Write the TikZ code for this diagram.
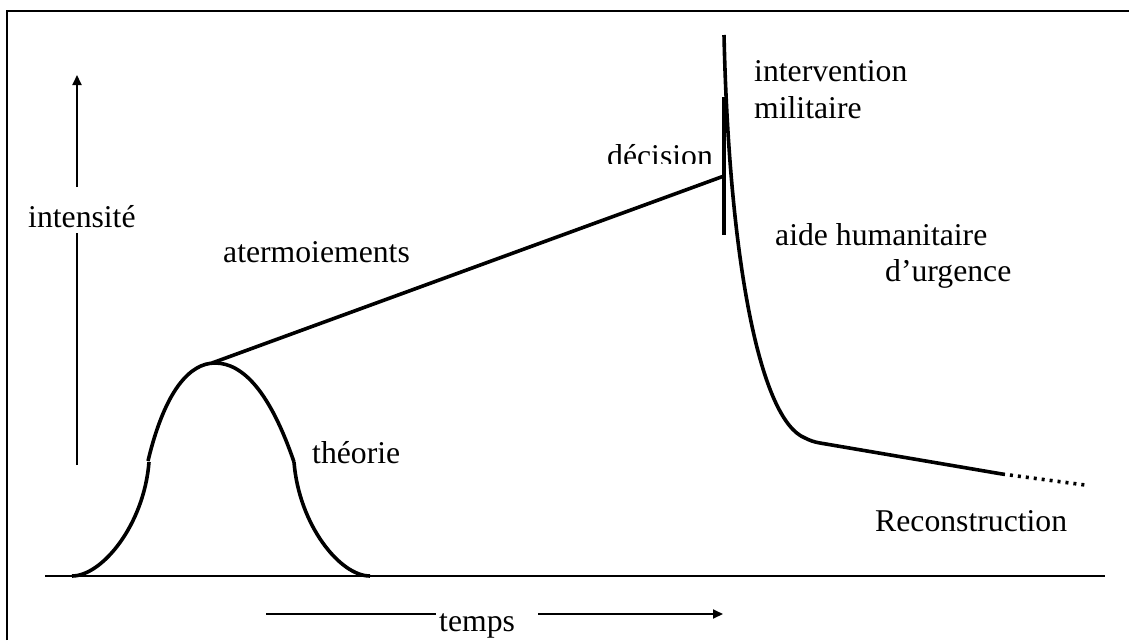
\documentclass[tikz,border=0pt]{standalone}
\usepackage{fontspec}
\setmainfont{Liberation Serif}
\usetikzlibrary{arrows.meta}
\begin{document}
\begin{tikzpicture}[x=1pt,y=-1pt,
  lbl/.style={anchor=base west,inner sep=0pt,font=\fontsize{31.7pt}{36pt}\selectfont},
  heavy/.style={line width=3.6pt},
  light/.style={line width=1.8pt},
  tip/.style={-{Triangle[length=10pt,width=9pt]}}]
\useasboundingbox (0,0) rectangle (1129,640);
\fill[white] (0,0) rectangle (1129,640);
% frame
\draw[line width=2.2pt] (7,640) -- (7,11) -- (1129,11);
% baseline
\draw[line width=2.4pt] (45,576) coordinate (b0) -- (1105,576) coordinate (b1);
% intensity axis
\node[lbl] (int) at (28,227) {intensité};
\coordinate (ia) at (77,465);
\coordinate (ib) at (77,233);
\coordinate (ic) at (77,187);
\coordinate (id) at (77,75);
\draw[light] (ia) -- (ib);
\draw[light,tip] (ic) -- (id);
% time axis
\node[lbl] (tps) at (439,631) {temps};
\coordinate (ta) at (266,614);
\coordinate (tb) at (436,614);
\coordinate (tc) at (538,614);
\coordinate (td) at (723,614);
\draw[light] (ta) -- (tb);
\draw[light,tip] (tc) -- (td);
% bell curve (theory)
\coordinate (peak) at (215,363);
\draw[heavy] (72,576) .. controls (102,576) and (144,525) .. (149,462);
\draw[heavy] (148,461) .. controls (165,390) and (190,363) .. (peak)
  .. controls (243,363) and (270,392) .. (294,462);
\draw[heavy] (294,462) .. controls (299,525) and (340,576) .. (370,576);
% atermoiements line
\coordinate (dec) at (724,176);
\draw[heavy] (212,363) -- (dec);
% decision bar
\draw[heavy] (724,97) -- (724,235);
% intervention / humanitarian curve
\coordinate (knee) at (820,443);
\coordinate (rec) at (1002,474);
\coordinate (recend) at (1085,485);
\draw[heavy,line join=round] (724,35) .. controls (729,260) and (760,420) .. (805,438)
  .. controls (810,440.5) and (814,442) .. (knee) -- (rec);
\draw[heavy,dash pattern=on 3pt off 5pt] (rec) -- (recend);
% labels
\node[lbl] (iv) at (754,81) {intervention};
\node[lbl] (mil) at (754,118) {militaire};
\begin{scope}
  \clip (590,100) rectangle (720,163);
  \node[lbl] (decl) at (607,166) {décision};
\end{scope}
\node[lbl] (aide) at (775,245) {aide humanitaire};
\node[lbl] (urg) at (885,281) {d’urgence};
\node[lbl] (ater) at (223,262) {atermoiements};
\node[lbl] (theo) at (312,463) {théorie};
\node[lbl] (recon) at (875,531) {Reconstruction};
\end{tikzpicture}
\end{document}
